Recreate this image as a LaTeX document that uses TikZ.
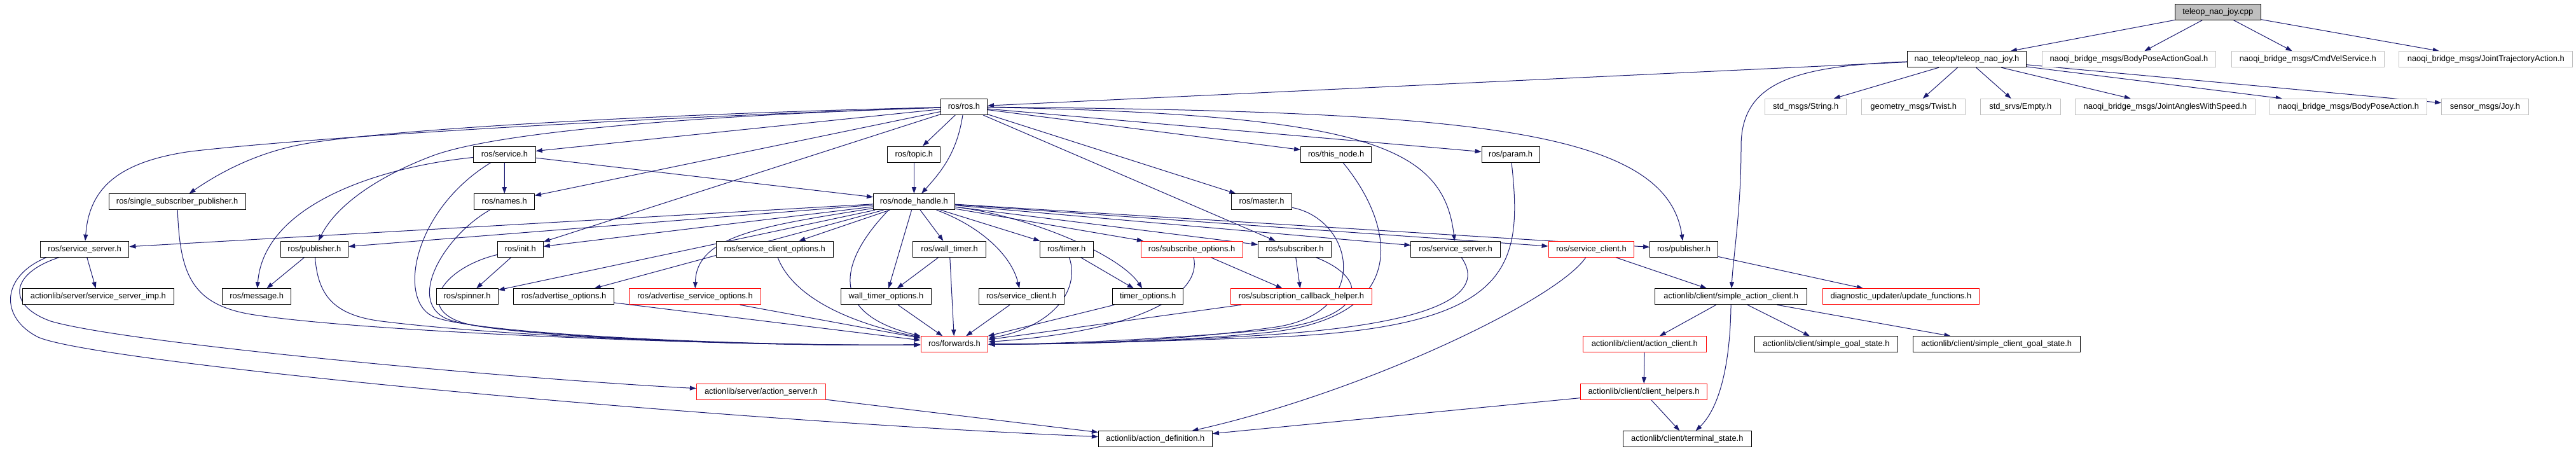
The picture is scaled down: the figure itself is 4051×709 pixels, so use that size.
\documentclass[tikz,border=0pt]{standalone}
\usepackage{fontspec}
\newfontfamily\dxfont{Liberation Sans}
\usetikzlibrary{arrows.meta}
\definecolor{mblue}{HTML}{191970}
\definecolor{grayb}{HTML}{BFBFBF}
\pgfdeclarelayer{bg}
\pgfsetlayers{bg,main}
\begin{document}
\begin{tikzpicture}[x=1pt,y=-1pt,
  nd/.style={draw=black,line width=1pt,fill=white,rectangle,inner sep=0pt,minimum height=25pt,text height=10pt,text depth=3pt,font=\dxfont\fontsize{12.9}{14}\selectfont},
  rd/.style={nd,draw=red},
  gy/.style={nd,draw=grayb},
  rt/.style={nd,fill=grayb},
  edg/.style={draw=mblue,line width=1pt,-{Triangle[length=10pt,width=7pt]}}]
\useasboundingbox (0,0) rectangle (4051,709);
% row 0
\node[rt,minimum width=134.8pt] (root) at (3487.8,18.7) {teleop\_nao\_joy.cpp};
% row 1
\node[nd,minimum width=187pt] (tnj) at (3093,93.2) {nao\_teleop/teleop\_nao\_joy.h};
\node[gy,minimum width=273.6pt] (bpag) at (3347.9,93.2) {naoqi\_bridge\_msgs/BodyPoseActionGoal.h};
\node[gy,minimum width=240.6pt] (cmdvel) at (3629.3,93.2) {naoqi\_bridge\_msgs/CmdVelService.h};
\node[gy,minimum width=272.8pt] (jta) at (3909.3,93.2) {naoqi\_bridge\_msgs/JointTrajectoryAction.h};
% row 2
\node[nd,minimum width=73.3pt] (ros) at (1515.9,167.9) {ros/ros.h};
\node[gy,minimum width=127.6pt] (string) at (2839.7,167.9) {std\_msgs/String.h};
\node[gy,minimum width=162.9pt] (twist) at (3009.2,167.9) {geometry\_msgs/Twist.h};
\node[gy,minimum width=125.9pt] (empty) at (3177.3,167.9) {std\_srvs/Empty.h};
\node[gy,minimum width=282.1pt] (jaws) at (3405,167.9) {naoqi\_bridge\_msgs/JointAnglesWithSpeed.h};
\node[gy,minimum width=246.8pt] (bpa) at (3693.2,167.9) {naoqi\_bridge\_msgs/BodyPoseAction.h};
\node[gy,minimum width=136.6pt] (joy) at (3907.8,167.9) {sensor\_msgs/Joy.h};
% row 3
\node[nd,minimum width=97.6pt] (service) at (793.4,242.5) {ros/service.h};
\node[nd,minimum width=82.9pt] (topic) at (1437.4,242.5) {ros/topic.h};
\node[nd,minimum width=111pt] (thisnode) at (2101.1,242.5) {ros/this\_node.h};
\node[nd,minimum width=91.1pt] (param) at (2375.6,242.5) {ros/param.h};
% row 4
\node[nd,minimum width=214.7pt] (ssp) at (278.7,317.2) {ros/single\_subscriber\_publisher.h};
\node[nd,minimum width=94.5pt] (names) at (793.2,317.2) {ros/names.h};
\node[nd,minimum width=127.9pt] (nh) at (1437.4,317.2) {ros/node\_handle.h};
\node[nd,minimum width=94.6pt] (master) at (1984,317.2) {ros/master.h};
% row 5
\node[nd,minimum width=139.7pt] (ssL) at (133.1,391.7) {ros/service\_server.h};
\node[nd,minimum width=106.7pt] (pubL) at (494.4,391.7) {ros/publisher.h};
\node[nd,minimum width=72pt] (init) at (818.3,391.7) {ros/init.h};
\node[nd,minimum width=183.9pt] (sco) at (1218.2,391.7) {ros/service\_client\_options.h};
\node[nd,minimum width=114.5pt] (walltimer) at (1493.1,391.7) {ros/wall\_timer.h};
\node[nd,minimum width=83.7pt] (timer) at (1677.2,391.7) {ros/timer.h};
\node[rd,minimum width=160.1pt] (subopts) at (1874.1,391.7) {ros/subscribe\_options.h};
\node[nd,minimum width=114.9pt] (subscriber) at (2035.9,391.7) {ros/subscriber.h};
\node[nd,minimum width=140.1pt] (ssR) at (2289,391.7) {ros/service\_server.h};
\node[rd,minimum width=134.9pt] (scR) at (2502.5,391.7) {ros/service\_client.h};
\node[nd,minimum width=107pt] (pubR) at (2648.1,391.7) {ros/publisher.h};
% row 6
\node[nd,minimum width=238.5pt] (ssimp) at (154.4,466.3) {actionlib/server/service\_server\_imp.h};
\node[nd,minimum width=107.5pt] (message) at (403.7,466.3) {ros/message.h};
\node[nd,minimum width=97.2pt] (spinner) at (734.6,466.3) {ros/spinner.h};
\node[nd,minimum width=157.4pt] (advopts) at (886.6,466.3) {ros/advertise\_options.h};
\node[rd,minimum width=206.9pt] (advsrvopts) at (1093,466.3) {ros/advertise\_service\_options.h};
\node[nd,minimum width=141.3pt] (wto) at (1393.4,466.3) {wall\_timer\_options.h};
\node[nd,minimum width=134.5pt] (scB) at (1606.3,466.3) {ros/service\_client.h};
\node[nd,minimum width=110.6pt] (timeropts) at (1805.1,466.3) {timer\_options.h};
\node[rd,minimum width=222.9pt] (sch) at (2046.5,466.3) {ros/subscription\_callback\_helper.h};
\node[nd,minimum width=238.7pt] (sac) at (2722.2,466.3) {actionlib/client/simple\_action\_client.h};
\node[rd,minimum width=245.5pt] (duf) at (2989.4,466.3) {diagnostic\_updater/update\_functions.h};
% row 7
\node[rd,minimum width=105.8pt] (forwards) at (1500.9,541.3) {ros/forwards.h};
\node[rd,minimum width=193.4pt] (ac) at (2586.3,541.3) {actionlib/client/action\_client.h};
\node[nd,minimum width=225.3pt] (sgs) at (2871.9,541.3) {actionlib/client/simple\_goal\_state.h};
\node[nd,minimum width=262.7pt] (scgs) at (3139.7,541.3) {actionlib/client/simple\_client\_goal\_state.h};
% row 8
\node[rd,minimum width=203pt] (as) at (1196.9,616) {actionlib/server/action\_server.h};
\node[rd,minimum width=199.5pt] (ch) at (2585,616) {actionlib/client/client\_helpers.h};
% row 9
\node[nd,minimum width=179.1pt] (ad) at (1816.9,690.3) {actionlib/action\_definition.h};
\node[nd,minimum width=202.3pt] (ts) at (2653.3,690.3) {actionlib/client/terminal\_state.h};

\begin{pgfonlayer}{bg}
% root
\draw[edg] (root) -- (tnj);
\draw[edg] (root) -- (bpag);
\draw[edg] (root) -- (cmdvel);
\draw[edg] (root) -- (jta);
% teleop_nao_joy.h
\draw[edg] (tnj) -- (ros);
\draw[edg] (tnj) -- (string);
\draw[edg] (tnj) -- (twist);
\draw[edg] (tnj) -- (empty);
\draw[edg] (tnj) -- (jaws);
\draw[edg] (tnj) -- (bpa);
\draw[edg] (tnj) -- (joy);
\draw[edg] (tnj) .. controls (2820,104) and (2738,130) .. (2738,230) .. controls (2738,330) and (2726,400) .. (sac);
% simple_action_client
\draw[edg] (sac) -- (ac);
\draw[edg] (sac) -- (sgs);
\draw[edg] (sac) -- (scgs);
\draw[edg] (sac) .. controls (2721,570) and (2705,640) .. (ts);
\draw[edg] (ac) -- (ch);
\draw[edg] (ch) -- (ts);
\draw[edg] (ch) -- (ad);
% service_client (red)
\draw[edg] (scR) -- (sac);
\draw[edg] (scR) .. controls (2450,470) and (2150,615) .. (ad);
\draw[edg] (pubR) -- (duf);
% ros.h
\draw[edg] (ros) .. controls (2300,175) and (2620,200) .. (pubR);
\draw[edg] (ros) .. controls (2150,180) and (2270,230) .. (ssR);
\draw[edg] (ros) -- (param);
\draw[edg] (ros) -- (thisnode);
\draw[edg] (ros) -- (master);
\draw[edg] (ros) -- (subscriber);
\draw[edg] (ros) -- (topic);
\draw[edg] (ros) .. controls (1505,240) and (1480,270) .. (nh);
\draw[edg] (ros) -- (service);
\draw[edg] (ros) -- (names);
\draw[edg] (ros) -- (init);
\draw[edg] (ros) .. controls (1000,185) and (760,215) .. (680,245) .. controls (600,275) and (530,320) .. (pubL);
\draw[edg] (ros) .. controls (1000,180) and (600,205) .. (480,226) .. controls (400,240) and (340,275) .. (ssp);
\draw[edg] (ros) .. controls (1000,185) and (500,215) .. (300,238) .. controls (180,255) and (140,300) .. (ssL);
% topic, service, names, init
\draw[edg] (topic) -- (nh);
\draw[edg] (service) -- (names);
\draw[edg] (service) -- (nh);
\draw[edg] (service) .. controls (600,262) and (415,320) .. (message);
\draw[edg] (service) .. controls (650,330) and (625,470) .. (680,497) .. controls (740,526) and (1200,545) .. (forwards);
\draw[edg] (names) .. controls (700,370) and (640,470) .. (700,500) .. controls (760,530) and (1200,545) .. (forwards);
\draw[edg] (init) -- (spinner);
\draw[edg] (init) .. controls (700,420) and (650,485) .. (730,508) .. controls (800,528) and (1200,545) .. (forwards);
\draw[edg] (ssp) .. controls (283,430) and (300,480) .. (400,495) .. controls (600,525) and (1200,545) .. (forwards);
\draw[edg] (pubL) -- (message);
\draw[edg] (pubL) .. controls (500,460) and (520,495) .. (600,505) .. controls (800,530) and (1200,545) .. (forwards);
% service_server (left)
\draw[edg] (ssL) -- (ssimp);
\draw[edg] (ssL) .. controls (15,430) and (10,480) .. (80,505) .. controls (200,540) and (800,595) .. (as);
\draw[edg] ([xshift=-60pt]ssL.south) .. controls (0,435) and (0,500) .. (60,530) .. controls (150,570) and (1100,660) .. (ad);
\draw[edg] (as) -- (ad);
% node_handle.h
\draw[edg] (nh) -- (ssL);
\draw[edg] (nh) -- (pubL);
\draw[edg] (nh) -- (init);
\draw[edg] (nh) -- (spinner);
\draw[edg] (nh) -- (advopts);
\draw[edg] (nh) .. controls (1200,355) and (1095,370) .. (advsrvopts);
\draw[edg] (nh) -- (sco);
\draw[edg] (nh) -- (wto);
\draw[edg] (nh) -- (walltimer);
\draw[edg] (nh) .. controls (1540,355) and (1590,400) .. (scB);
\draw[edg] (nh) -- (timer);
\draw[edg] (nh) .. controls (1620,340) and (1760,400) .. (timeropts);
\draw[edg] (nh) -- (subopts);
\draw[edg] (nh) -- (subscriber);
\draw[edg] (nh) -- (ssR);
\draw[edg] (nh) -- (scR);
\draw[edg] (nh) -- (pubR);
\draw[edg] ([xshift=-40pt]nh.south) .. controls (1330,400) and (1290,490) .. (forwards);
% into forwards.h
\draw[edg] (walltimer) -- (wto);
\draw[edg] (walltimer) -- (forwards);
\draw[edg] (wto) -- (forwards);
\draw[edg] (scB) -- (forwards);
\draw[edg] (sco) .. controls (1240,450) and (1300,500) .. (forwards);
\draw[edg] (advopts) -- (forwards);
\draw[edg] (advsrvopts) -- (forwards);
\draw[edg] (timer) -- (timeropts);
\draw[edg] (timer) .. controls (1700,460) and (1650,515) .. (forwards);
\draw[edg] (timeropts) -- (forwards);
\draw[edg] (subopts) -- (sch);
\draw[edg] (subopts) .. controls (1890,460) and (1800,520) .. (forwards);
\draw[edg] (sch) -- (forwards);
\draw[edg] (subscriber) -- (sch);
\draw[edg] (subscriber) .. controls (2160,440) and (2150,505) .. (1980,520) .. controls (1800,535) and (1650,541) .. (forwards);
\draw[edg] (master) .. controls (2130,345) and (2160,495) .. (2000,515) .. controls (1820,540) and (1650,541) .. (forwards);
\draw[edg] (thisnode) .. controls (2190,350) and (2225,495) .. (2000,522) .. controls (1820,540) and (1650,541) .. (forwards);
\draw[edg] (ssR) .. controls (2330,450) and (2300,505) .. (2000,526) .. controls (1820,538) and (1650,541) .. (forwards);
\draw[edg] (param) .. controls (2395,420) and (2380,515) .. (2000,530) .. controls (1820,537) and (1650,541) .. (forwards);
\end{pgfonlayer}
\end{tikzpicture}
\end{document}
